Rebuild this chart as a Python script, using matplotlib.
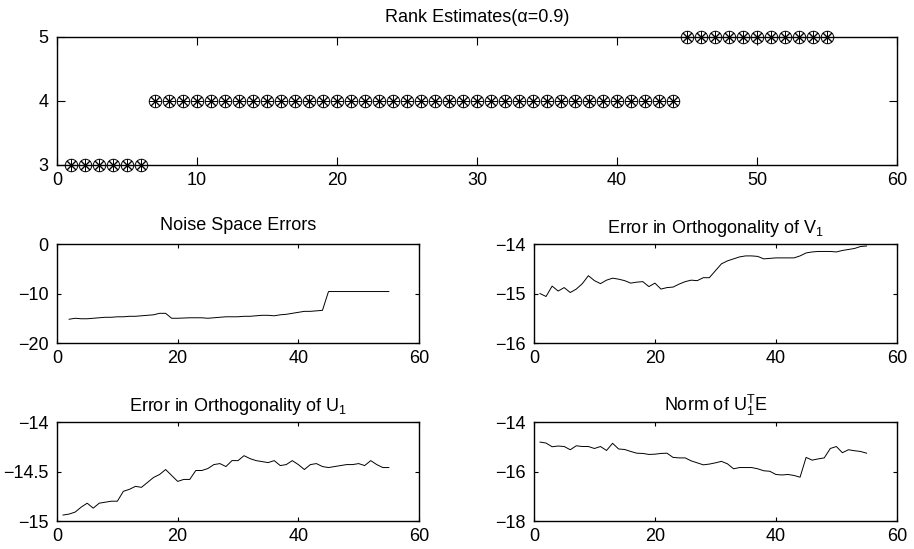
import numpy as np
import matplotlib
matplotlib.use('Agg')
import matplotlib.pyplot as plt

# --- DATA ---
rank_x = list(range(1, 56))
rank_est = [3] * 6 + [4] * 38 + [5] * 11

noise_x = list(range(2, 56))
noise_err = [-15.2, -15.0, -15.1, -15.1, -15.0, -14.9, -14.8, -14.8, -14.7, -14.7,
             -14.6, -14.6, -14.5, -14.4, -14.3, -14.0, -14.0, -15.0, -15.0, -14.95,
             -14.9, -14.9, -14.9, -15.0, -14.9, -14.8, -14.7, -14.7, -14.7, -14.6,
             -14.6, -14.5, -14.4, -14.4, -14.5, -14.3, -14.2, -14.0, -13.8, -13.6,
             -13.6, -13.5, -13.4, -9.6, -9.6, -9.6, -9.6, -9.6, -9.6, -9.6,
             -9.6, -9.6, -9.6, -9.6]

step_x = list(range(1, 56))
orth_v1 = [-15.0, -15.06, -14.85, -14.95, -14.88, -14.98, -14.91, -14.8, -14.64, -14.74,
           -14.8, -14.73, -14.69, -14.71, -14.74, -14.79, -14.77, -14.76, -14.86, -14.79,
           -14.91, -14.88, -14.87, -14.81, -14.76, -14.73, -14.74, -14.68, -14.68, -14.54,
           -14.4, -14.34, -14.3, -14.26, -14.24, -14.24, -14.25, -14.3, -14.29, -14.28,
           -14.28, -14.28, -14.28, -14.24, -14.18, -14.16, -14.15, -14.15, -14.15, -14.16,
           -14.13, -14.11, -14.09, -14.05, -14.04]

orth_u1 = [-14.94, -14.93, -14.91, -14.86, -14.82, -14.87, -14.82, -14.81, -14.80, -14.80,
           -14.70, -14.68, -14.65, -14.66, -14.61, -14.56, -14.53, -14.48, -14.54, -14.60,
           -14.58, -14.58, -14.49, -14.49, -14.47, -14.43, -14.42, -14.45, -14.39, -14.39,
           -14.34, -14.37, -14.39, -14.40, -14.41, -14.39, -14.44, -14.43, -14.39, -14.43,
           -14.48, -14.43, -14.42, -14.45, -14.46, -14.45, -14.44, -14.43, -14.43, -14.42,
           -14.44, -14.39, -14.43, -14.46, -14.46]

norm_u1e = [-14.81, -14.85, -15.0, -14.97, -14.99, -15.12, -14.96, -14.99, -14.99, -15.07,
            -14.99, -15.15, -14.86, -15.09, -15.11, -15.19, -15.26, -15.27, -15.31, -15.30,
            -15.27, -15.26, -15.43, -15.45, -15.45, -15.57, -15.65, -15.73, -15.70, -15.65,
            -15.59, -15.69, -15.89, -15.84, -15.84, -15.84, -15.89, -15.97, -15.99, -16.12,
            -16.14, -16.12, -16.16, -16.23, -15.43, -15.54, -15.49, -15.45, -15.07, -14.99,
            -15.24, -15.12, -15.16, -15.19, -15.26]

u1_yticks = [-15, -14.5, -14]
u1_yticklabels = ['\u221215', '\u221214.5', '\u221214']

plt.rcParams['font.family'] = ['Liberation Sans', 'DejaVu Sans']
plt.rcParams['mathtext.fontset'] = 'custom'
plt.rcParams['mathtext.rm'] = 'Liberation Sans'
plt.rcParams['mathtext.it'] = 'Liberation Sans'
FS = 13
plt.rcParams['font.size'] = FS


def matlab_axes(ax, xlim, ylim, xticks, yticks, ticklen):
    ax.set_xlim(xlim)
    ax.set_ylim(ylim)
    ax.set_xticks(xticks)
    ax.set_yticks(yticks)
    ax.tick_params(direction='in', top=True, right=True, length=ticklen,
                   width=0.8, labelsize=FS, colors='black')
    ax.tick_params(axis='x', pad=5)
    ax.tick_params(axis='y', pad=6)
    for s in ax.spines.values():
        s.set_linewidth(1.0)


fig = plt.figure(figsize=(9.14, 5.49), dpi=100)

# Top: rank estimates
ax0 = fig.add_axes([0.0624, 0.6995, 0.919, 0.2332])
ax0.plot(rank_x, rank_est, linestyle='none', marker='o', ms=9, mfc='none',
         mec='black', mew=0.7, clip_on=False)
ax0.plot(rank_x, rank_est, linestyle='none', marker=(8, 2, 0), ms=9,
         mec='black', mew=0.7, clip_on=False)
matlab_axes(ax0, (0, 60), (3, 5), range(0, 61, 10), [3, 4, 5], 6)
ax0.set_title('Rank Estimates(α=0.9)', fontsize=FS, pad=11)

left, right_l, w, h = 0.0624, 0.5842, 0.397, 0.1803
row_mid, row_bot = 0.3752, 0.051

ax1 = fig.add_axes([left, row_mid, 0.396, h])
ax1.plot(noise_x, noise_err, color='black', lw=0.7)
matlab_axes(ax1, (0, 60), (-20, 0), [0, 20, 40, 60], [-20, -10, 0], 2.6)
ax1.set_title('Noise Space Errors', fontsize=FS, pad=10)

ax2 = fig.add_axes([right_l, row_mid, w, h])
ax2.plot(step_x, orth_v1, color='black', lw=0.7)
matlab_axes(ax2, (0, 60), (-16, -14), [0, 20, 40, 60], [-16, -15, -14], 2.6)
ax2.set_title(r'Error in Orthogonality of V$_{\mathregular{1}}$', fontsize=FS, pad=8)

ax3 = fig.add_axes([left, row_bot, 0.396, h])
ax3.plot(step_x, orth_u1, color='black', lw=0.7)
matlab_axes(ax3, (0, 60), (-15, -14), [0, 20, 40, 60], u1_yticks, 2.6)
ax3.set_yticklabels(u1_yticklabels)
ax3.set_title(r'Error in Orthogonality of U$_{\mathregular{1}}$', fontsize=FS, pad=8)

ax4 = fig.add_axes([right_l, row_bot, w, h])
ax4.plot(step_x, norm_u1e, color='black', lw=0.7)
matlab_axes(ax4, (0, 60), (-18, -14), [0, 20, 40, 60], [-18, -16, -14], 2.6)
ax4.set_title(r'Norm of U$_{\mathregular{1}}^{\mathregular{T}}$E', fontsize=FS, pad=8)

fig.savefig('out.png', dpi=100)
